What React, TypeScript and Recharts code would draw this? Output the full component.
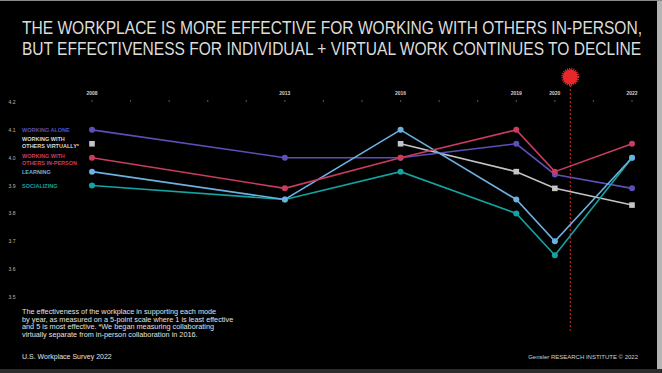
import React from 'react';
import { LineChart, Line, XAxis, YAxis, ReferenceLine, ReferenceDot } from 'recharts';

const years = [2008, 2013, 2016, 2019, 2020, 2022];
const yearLabels = ['2008', '2013', '2016', '2019', '2020', '2022'];
const yTicks = [4.2, 4.1, 4.0, 3.9, 3.8, 3.7, 3.6, 3.5];

const workingAlone = [4.1, 4.0, 4.0, 4.05, 3.94, 3.89];
const workingVirtually = [4.05, null, 4.05, 3.95, 3.89, 3.83];
const workingInPerson = [4.0, 3.89, 4.0, 4.1, 3.95, 4.05];
const learning = [3.95, 3.85, 4.1, 3.85, 3.7, 4.0];
const socializing = [3.9, 3.85, 3.95, 3.8, 3.65, 4.0];

const covidMark = 2020.4;

const COLORS = {
  alone: '#5b50b8',
  virtual: '#c4c4c4',
  inPerson: '#c93c60',
  learning: '#6db0e2',
  social: '#13a3a0',
};

const data = years.map((y, i) => ({
  year: y,
  alone: workingAlone[i],
  virtual: workingVirtually[i],
  inPerson: workingInPerson[i],
  learning: learning[i],
  social: socializing[i],
}));

const allYears = Array.from({ length: 15 }, (_, i) => 2008 + i);

const XTick = (props: any) => {
  const { x, payload } = props;
  const idx = years.indexOf(payload.value);
  return (
    <g>
      {idx >= 0 && (
        <text x={x} y={95} textAnchor="middle" fill="#cfcfcf" fontSize={5} fontWeight={700}>
          {yearLabels[idx]}
        </text>
      )}
      <circle cx={x} cy={101} r={0.7} fill="#777" />
    </g>
  );
};

const YTick = (props: any) => {
  const { y, payload } = props;
  return (
    <text x={12} y={y + 2} textAnchor="middle" fill="#bbb" fontSize={5}>
      {payload.value.toFixed(1)}
    </text>
  );
};

const SquareDot = (props: any) => {
  const { cx, cy, value } = props;
  if (value == null || cx == null) return null;
  return <rect x={cx - 2.8} y={cy - 2.8} width={5.6} height={5.6} fill={COLORS.virtual} />;
};

const legend = [
  { lines: ['WORKING ALONE'], color: COLORS.alone, y: 127 },
  { lines: ['WORKING WITH', 'OTHERS VIRTUALLY*'], color: '#d8d8d8', y: 136 },
  { lines: ['WORKING WITH', 'OTHERS IN-PERSON'], color: COLORS.inPerson, y: 153 },
  { lines: ['LEARNING'], color: COLORS.learning, y: 169 },
  { lines: ['SOCIALIZING'], color: COLORS.social, y: 183 },
];

export default function App() {
  const lineProps = { type: 'linear' as const, strokeWidth: 1.6, isAnimationActive: false };
  return (
    <div
      style={{
        position: 'absolute',
        left: 0,
        top: 0,
        width: 662,
        height: 373,
        background: '#000',
        fontFamily: '"Liberation Sans", Arial, sans-serif',
        overflow: 'hidden',
      }}
    >
      <div
        style={{
          position: 'absolute',
          left: 22,
          top: 17,
          color: '#dcdcdc',
          fontSize: 19,
          lineHeight: '21px',
          whiteSpace: 'nowrap',
          transform: 'scaleX(0.818)',
          transformOrigin: 'left top',
        }}
      >
        <div>THE WORKPLACE IS MORE EFFECTIVE FOR WORKING WITH OTHERS IN-PERSON,</div>
        <div>BUT EFFECTIVENESS FOR INDIVIDUAL + VIRTUAL WORK CONTINUES TO DECLINE</div>
      </div>

      <LineChart width={662} height={373} data={data} margin={{ top: 82, right: 30, bottom: 76, left: 0 }}>
        <XAxis
          dataKey="year"
          type="number"
          orientation="top"
          domain={[2008, 2022]}
          ticks={allYears}
          tick={<XTick />}
          axisLine={false}
          tickLine={false}
          height={20}
          interval={0}
        />
        <YAxis
          type="number"
          domain={[3.5, 4.2]}
          ticks={yTicks}
          tick={<YTick />}
          axisLine={false}
          tickLine={false}
          width={92}
          interval={0}
        />
        <ReferenceLine
          segment={[
            { x: covidMark, y: 4.29 },
            { x: covidMark, y: 3.38 },
          ]}
          stroke="#c0202a"
          strokeDasharray="2 2"
          strokeWidth={1.2}
          ifOverflow="visible"
        />
        <ReferenceDot
          x={covidMark}
          y={4.29}
          r={7.5}
          fill="#e8262c"
          stroke="#e8262c"
          strokeWidth={3}
          strokeDasharray="1 1"
          ifOverflow="visible"
        />
        <Line dataKey="virtual" stroke={COLORS.virtual} dot={<SquareDot />} connectNulls={false} {...lineProps} />
        <Line dataKey="alone" stroke={COLORS.alone} dot={{ r: 3, fill: COLORS.alone, stroke: 'none' }} {...lineProps} />
        <Line dataKey="social" stroke={COLORS.social} dot={{ r: 3, fill: COLORS.social, stroke: 'none' }} {...lineProps} />
        <Line dataKey="learning" stroke={COLORS.learning} dot={{ r: 3, fill: COLORS.learning, stroke: 'none' }} {...lineProps} />
        <Line dataKey="inPerson" stroke={COLORS.inPerson} dot={{ r: 3, fill: COLORS.inPerson, stroke: 'none' }} {...lineProps} />
      </LineChart>

      {legend.map((l) => (
        <div
          key={l.lines.join()}
          style={{
            position: 'absolute',
            left: 22,
            top: l.y,
            color: l.color,
            fontSize: 5.5,
            lineHeight: '7px',
            fontWeight: 700,
            whiteSpace: 'nowrap',
          }}
        >
          {l.lines.map((t) => (
            <div key={t}>{t}</div>
          ))}
        </div>
      ))}

      <div
        style={{
          position: 'absolute',
          left: 22,
          top: 308,
          color: '#e0e0e0',
          fontSize: 7.3,
          lineHeight: '7.6px',
          whiteSpace: 'nowrap',
        }}
      >
        <div>The effectiveness of the workplace in supporting each mode</div>
        <div>by year, as measured on a 5-point scale where 1 is least effective</div>
        <div>and 5 is most effective. *We began measuring collaborating</div>
        <div>virtually separate from in-person collaboration in 2016.</div>
      </div>
      <div
        style={{
          position: 'absolute',
          left: 22,
          top: 353,
          color: '#e0e0e0',
          fontSize: 7,
          whiteSpace: 'nowrap',
        }}
      >
        U.S. Workplace Survey 2022
      </div>
      <div
        style={{
          position: 'absolute',
          right: 24,
          top: 354,
          color: '#d0d0d0',
          fontSize: 6,
          whiteSpace: 'nowrap',
        }}
      >
        Gensler RESEARCH INSTITUTE © 2022
      </div>

      <div style={{ position: 'absolute', right: 0, top: 0, width: 5, height: 373, background: '#b4b4b4' }} />
      <div style={{ position: 'absolute', left: 0, bottom: 0, width: 662, height: 4, background: '#2c2c2c' }} />
      <div style={{ position: 'absolute', left: 0, top: 0, width: 662, height: 1, background: '#8a8a8a' }} />
    </div>
  );
}
